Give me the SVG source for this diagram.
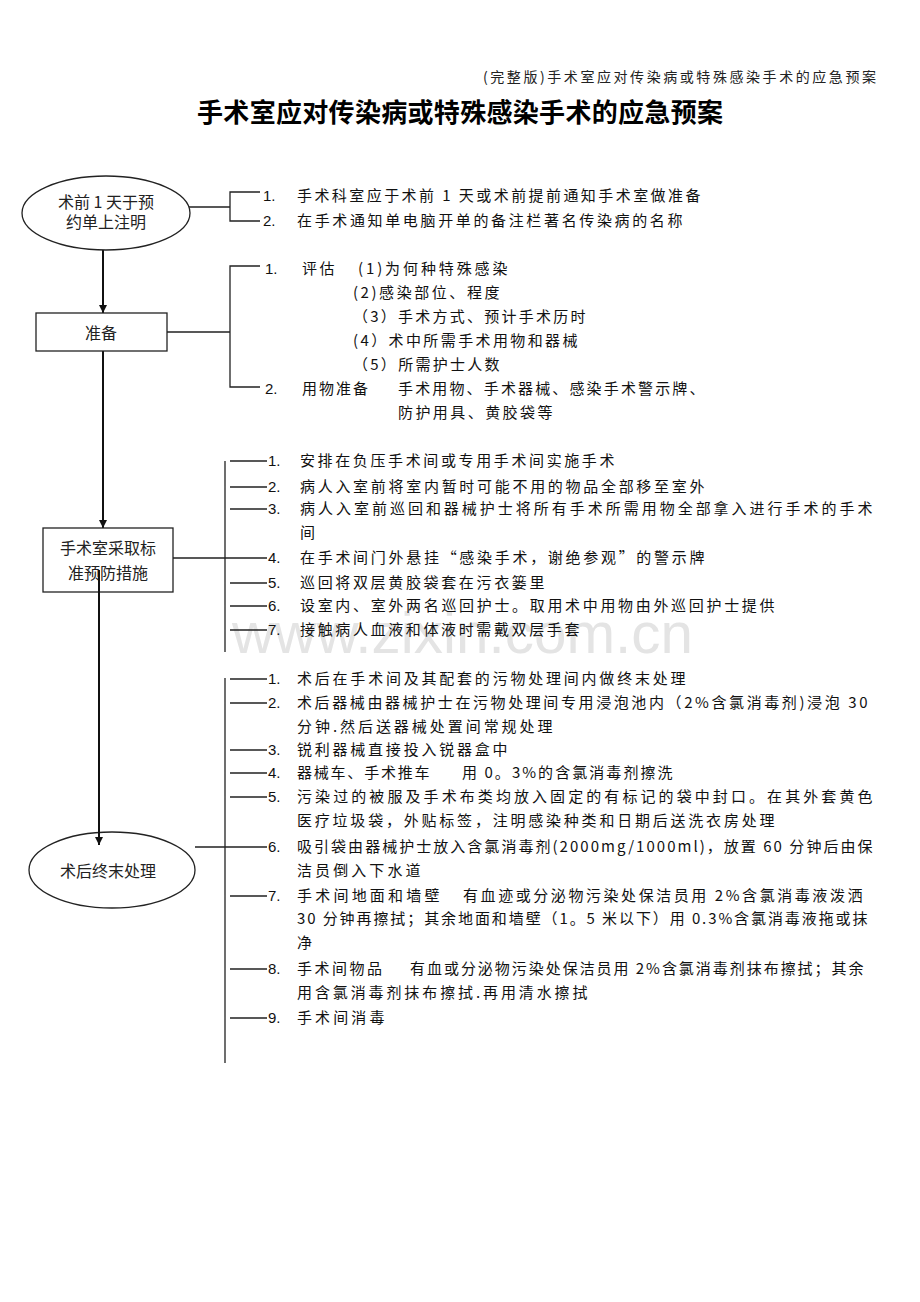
<svg xmlns="http://www.w3.org/2000/svg" width="920" height="1302" viewBox="0 0 920 1302">
<style>
.bg{fill:#ffffff}
.wm{font-family:"Liberation Sans",Arial,sans-serif;font-size:58px;fill:#e4e4e4}
.hd{font-family:"Noto Sans CJK SC",sans-serif;font-size:14px;fill:#222}
.ti{font-family:"Noto Sans CJK SC",sans-serif;font-size:26px;font-weight:700;fill:#000}
.nl{font-family:"Noto Sans CJK SC",sans-serif;font-size:16px;fill:#222;text-anchor:middle}
.t{font-family:"Noto Sans CJK SC",sans-serif;font-size:15px;letter-spacing:2.5px;fill:#111}
.n{font-family:"Liberation Sans",Arial,sans-serif;font-size:15px;fill:#111}
.shape{fill:#ffffff;stroke:#222;stroke-width:1.3}
.arr{stroke:#111;stroke-width:2;fill:none}
.br{stroke:#222;stroke-width:1.3;fill:none}
</style>
<defs>
<marker id="ah" viewBox="0 0 10 10" refX="10" refY="5" markerWidth="10" markerHeight="8" markerUnits="userSpaceOnUse" orient="auto">
<path d="M0,0 L10,5 L0,10 z" fill="#111"/>
</marker>
</defs>
<rect class="bg" x="0" y="0" width="920" height="1302"/>
<text class="wm" x="232" y="653" textLength="461" lengthAdjust="spacingAndGlyphs">www.zixin.com.cn</text>
<text class="hd" x="483" y="82" textLength="393">(完整版)手术室应对传染病或特殊感染手术的应急预案</text>
<text class="ti" x="197" y="122" textLength="526">手术室应对传染病或特殊感染手术的应急预案</text>

<g id="connectors">
<line class="arr" x1="103" y1="250" x2="103" y2="313" marker-end="url(#ah)"/>
<line class="arr" x1="103" y1="351" x2="103" y2="528" marker-end="url(#ah)"/>
<path class="br" d="M189,207 H230 M260,192 H230 V221 H260"/>
<path class="br" d="M167,332 H230 M260,266 H230 V387 H260"/>
<path class="br" d="M225,461 V652 M230,461 H267 M230,487 H267 M230,509 H267 M173,558 H267 M230,583 H267 M230,606 H267 M230,630 H267"/>
<path class="br" d="M225,678 V1063 M230,679 H267 M230,703 H267 M230,750 H267 M230,773 H267 M230,797 H267 M195,847 H267 M230,896 H267 M230,969 H267 M230,1018 H267"/>
</g>

<g id="node-pre">
<ellipse class="shape" cx="106" cy="213" rx="84" ry="37"/>
<text class="nl" x="106" y="208">术前 1 天于预</text>
<text class="nl" x="106" y="228">约单上注明</text>
</g>
<g id="node-prep">
<rect class="shape" x="36" y="313" width="131" height="38"/>
<text class="nl" x="101" y="339">准备</text>
</g>
<g id="node-measures">
<rect class="shape" x="43" y="528" width="130" height="64"/>
<text class="nl" x="108" y="554">手术室采取标</text>
<text class="nl" x="108" y="579">准预防措施</text>
</g>
<g id="node-post">
<ellipse class="shape" cx="112" cy="870" rx="83" ry="38"/>
<text class="nl" x="108" y="877">术后终末处理</text>
</g>
<g id="connector-post">
<line class="arr" x1="99" y1="570" x2="99" y2="845" marker-end="url(#ah)"/>
</g>

<g id="list-pre">
<text class="n" x="263" y="201">1.</text>
<text class="t" x="297" y="201" textLength="406">手术科室应于术前 1 天或术前提前通知手术室做准备</text>
<text class="n" x="263" y="226">2.</text>
<text class="t" x="297" y="226" textLength="388">在手术通知单电脑开单的备注栏著名传染病的名称</text>
</g>

<g id="list-prep">
<text class="n" x="265" y="274">1.</text>
<text class="t" x="302" y="274">评估</text>
<text class="t" x="358" y="274" textLength="152">(1)为何种特殊感染</text>
<text class="t" x="353" y="298" textLength="149">(2)感染部位、程度</text>
<text class="t" x="353" y="322" textLength="235">（3）手术方式、预计手术历时</text>
<text class="t" x="353" y="346" textLength="227">(4）术中所需手术用物和器械</text>
<text class="t" x="353" y="370" textLength="149">（5）所需护士人数</text>
<text class="n" x="265" y="394">2.</text>
<text class="t" x="302" y="394" style="letter-spacing:2px">用物准备</text>
<text class="t" x="398" y="394" textLength="309">手术用物、手术器械、感染手术警示牌、</text>
<text class="t" x="398" y="418" textLength="157">防护用具、黄胶袋等</text>
</g>

<g id="list-measures">
<text class="n" x="268" y="466">1.</text>
<text class="t" x="300" y="466" textLength="317">安排在负压手术间或专用手术间实施手术</text>
<text class="n" x="268" y="492">2.</text>
<text class="t" x="300" y="492" textLength="407">病人入室前将室内暂时可能不用的物品全部移至室外</text>
<text class="n" x="268" y="514">3.</text>
<text class="t" x="300" y="514" textLength="575">病人入室前巡回和器械护士将所有手术所需用物全部拿入进行手术的手术</text>
<text class="t" x="300" y="538">间</text>
<text class="n" x="268" y="563">4.</text>
<text class="t" x="300" y="563" textLength="407">在手术间门外悬挂“感染手术，谢绝参观”的警示牌</text>
<text class="n" x="268" y="588">5.</text>
<text class="t" x="300" y="588" textLength="247">巡回将双层黄胶袋套在污衣篓里</text>
<text class="n" x="268" y="611">6.</text>
<text class="t" x="300" y="611" textLength="477">设室内、室外两名巡回护士。取用术中用物由外巡回护士提供</text>
<text class="n" x="268" y="635">7.</text>
<text class="t" x="300" y="635" textLength="282">接触病人血液和体液时需戴双层手套</text>
</g>

<g id="list-post">
<text class="n" x="268" y="684">1.</text>
<text class="t" x="297" y="684" textLength="391">术后在手术间及其配套的污物处理间内做终末处理</text>
<text class="n" x="268" y="708">2.</text>
<text class="t" x="297" y="708" textLength="573">术后器械由器械护士在污物处理间专用浸泡池内（2%含氯消毒剂)浸泡 30</text>
<text class="t" x="297" y="732" textLength="258">分钟.然后送器械处置间常规处理</text>
<text class="n" x="268" y="755">3.</text>
<text class="t" x="297" y="755" textLength="213">锐利器械直接投入锐器盒中</text>
<text class="n" x="268" y="778">4.</text>
<text class="t" x="297" y="778" textLength="135">器械车、手术推车</text>
<text class="t" x="462" y="778" textLength="213">用 0。3%的含氯消毒剂擦洗</text>
<text class="n" x="268" y="802">5.</text>
<text class="t" x="297" y="802" textLength="578">污染过的被服及手术布类均放入固定的有标记的袋中封口。在其外套黄色</text>
<text class="t" x="297" y="826" textLength="480">医疗垃圾袋，外贴标签，注明感染种类和日期后送洗衣房处理</text>
<text class="n" x="268" y="852">6.</text>
<text class="t" x="297" y="852" textLength="578">吸引袋由器械护士放入含氯消毒剂(2000mg/1000ml)，放置 60 分钟后由保</text>
<text class="t" x="297" y="876" textLength="126">洁员倒入下水道</text>
<text class="n" x="268" y="901">7.</text>
<text class="t" x="297" y="901" textLength="145">手术间地面和墙壁</text>
<text class="t" x="463" y="901" textLength="402">有血迹或分泌物污染处保洁员用 2%含氯消毒液泼洒</text>
<text class="t" x="297" y="924" textLength="573">30 分钟再擦拭；其余地面和墙壁（1。5 米以下）用 0.3%含氯消毒液拖或抹</text>
<text class="t" x="297" y="948">净</text>
<text class="n" x="268" y="974">8.</text>
<text class="t" x="297" y="974">手术间物品</text>
<text class="t" x="410" y="974" textLength="456">有血或分泌物污染处保洁员用 2%含氯消毒剂抹布擦拭；其余</text>
<text class="t" x="297" y="998" textLength="293">用含氯消毒剂抹布擦拭.再用清水擦拭</text>
<text class="n" x="268" y="1023">9.</text>
<text class="t" x="297" y="1023" textLength="90">手术间消毒</text>
</g>
</svg>
